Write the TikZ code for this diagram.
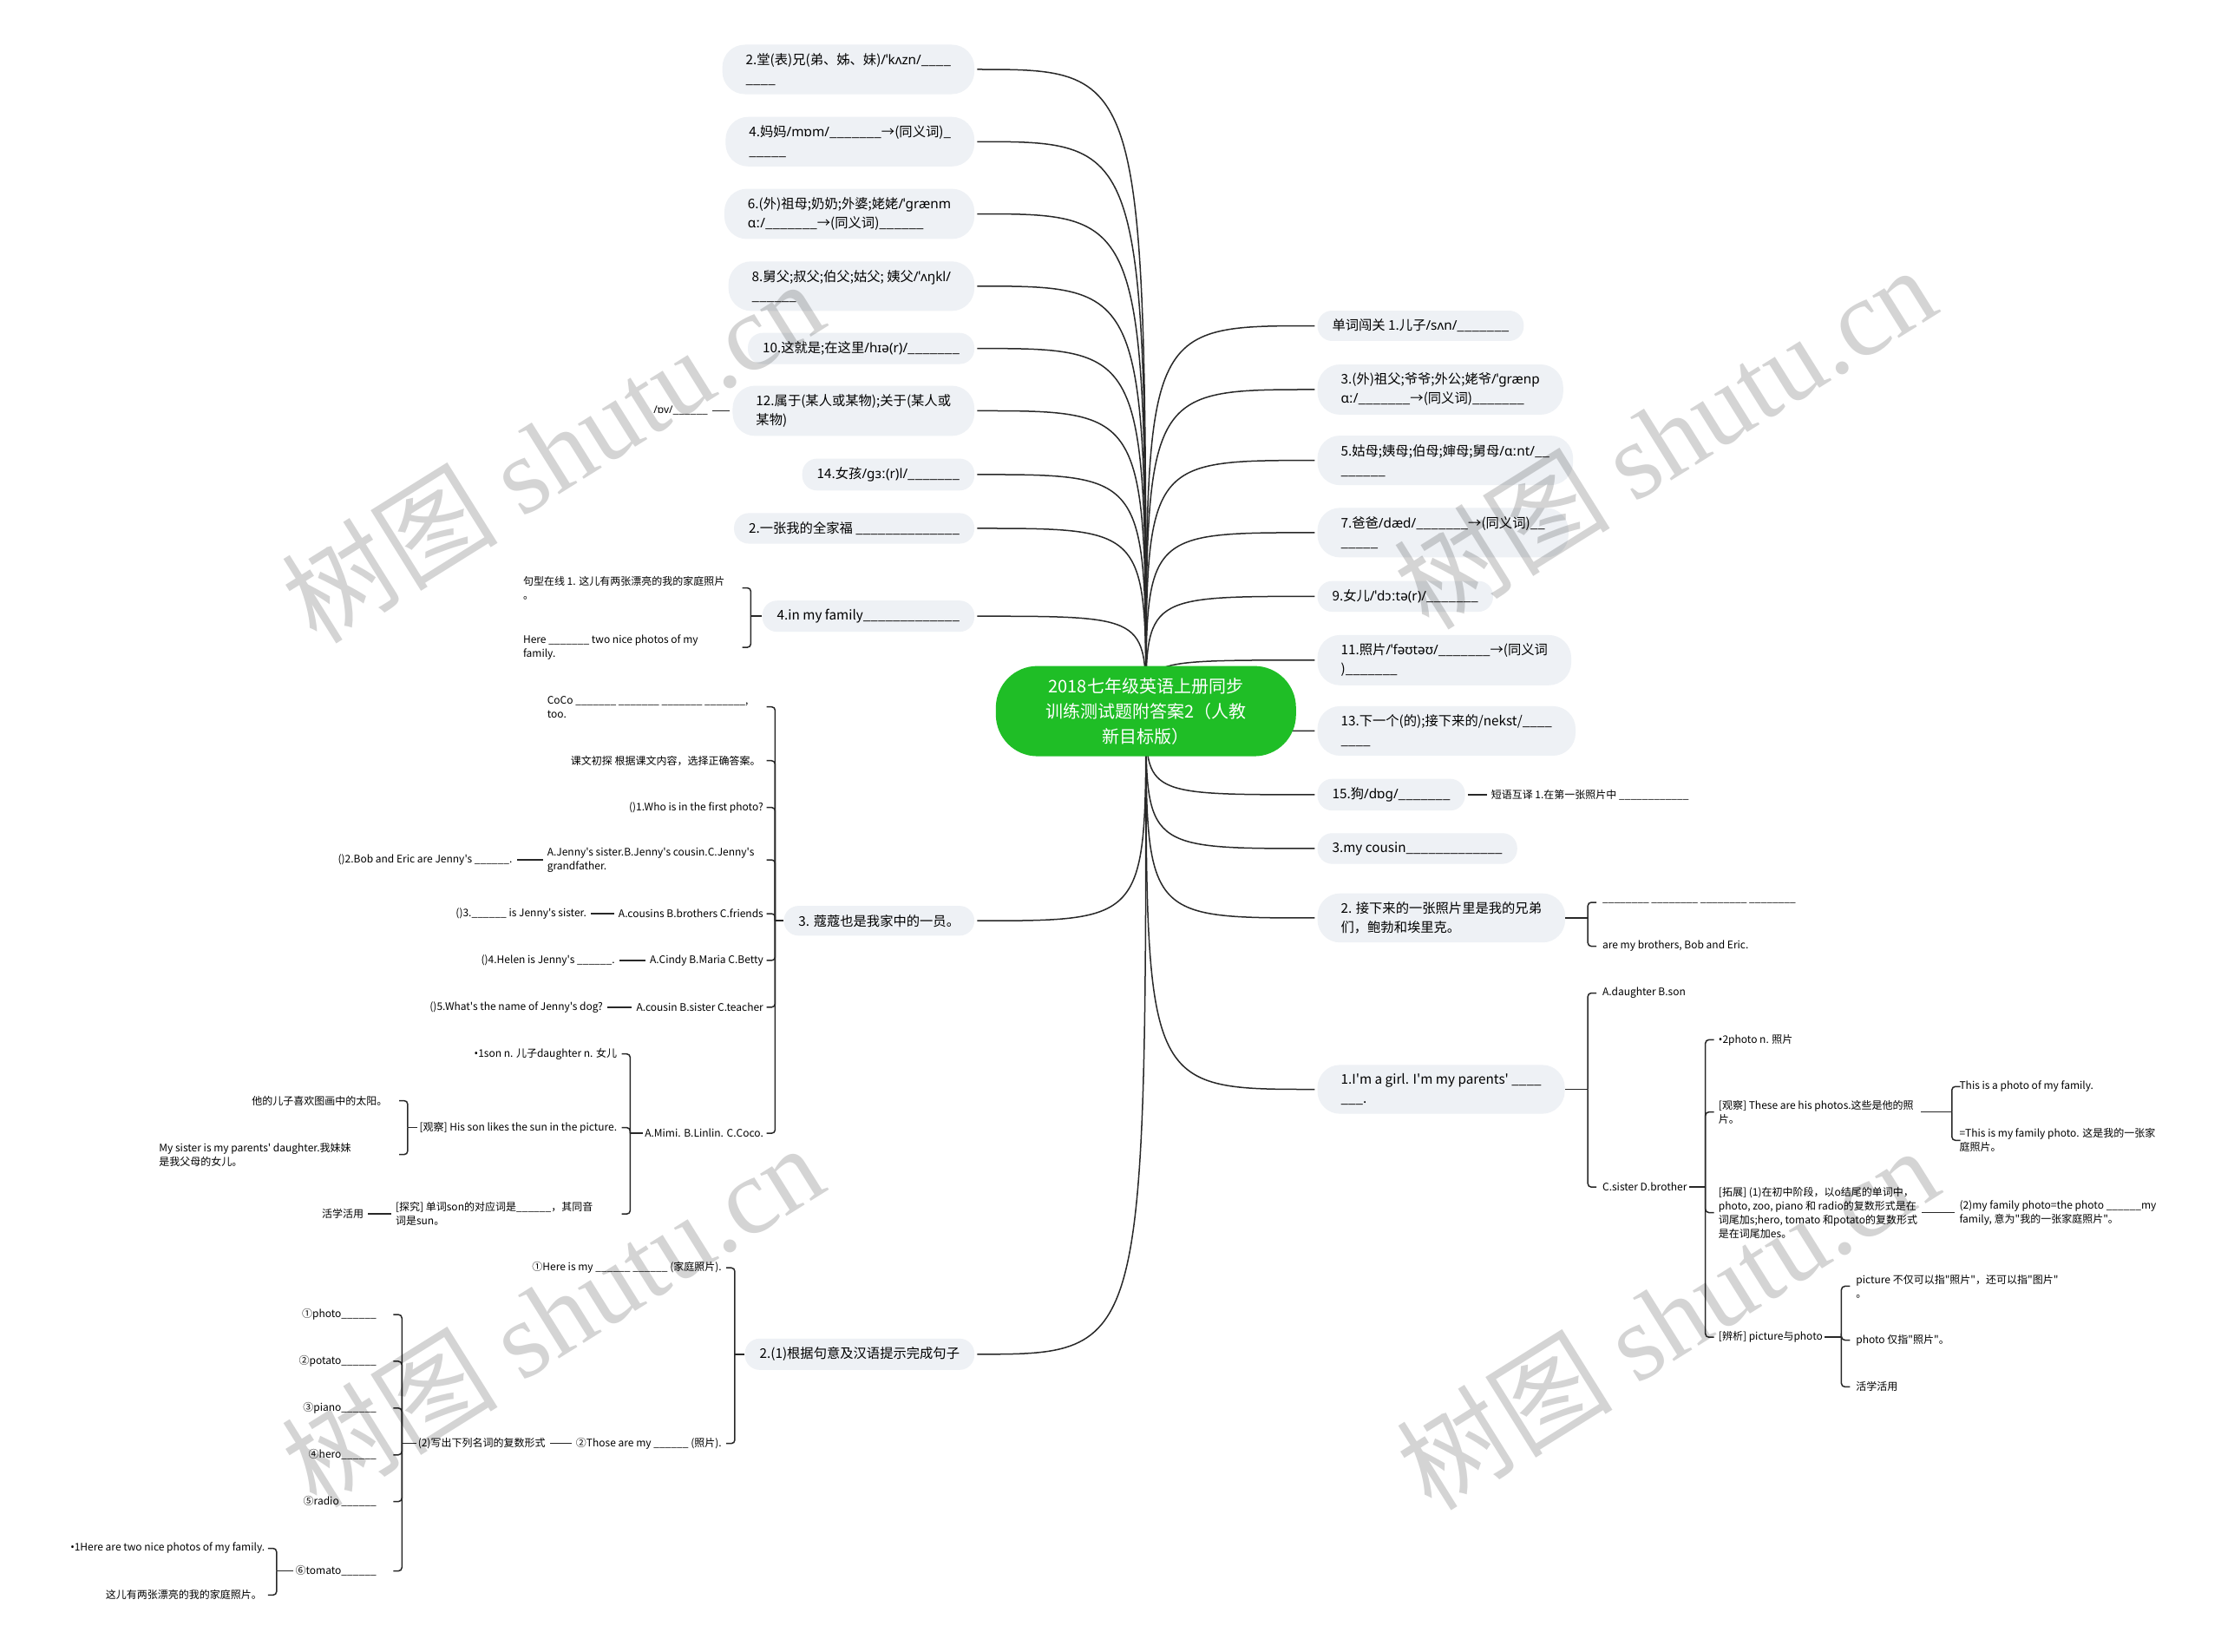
\documentclass[tikz,border=0pt]{standalone}
\usepackage{fontspec}
\setmainfont{Noto Sans CJK SC}[Ligatures=TeXOff]
\newfontfamily\ipafont{Noto Sans}
\newfontfamily\markfont{Liberation Serif}
\usetikzlibrary{calc, backgrounds}
\definecolor{rootgreen}{RGB}{31,190,38}
\definecolor{topicfill}{RGB}{238,241,245}
\definecolor{linkcol}{RGB}{40,40,40}
\newcommand{\ipa}[1]{{\ipafont #1}}
\newcommand{\hookL}[2]{\draw[twig] (#1) |- ($(#1|-#2)+(-6,0)$);}
\newcommand{\hookR}[2]{\draw[twig] (#1) |- ($(#1|-#2)+(6,0)$);}

\begin{document}
\catcode`\_=12
\begin{tikzpicture}[x={(1.6327pt,0pt)}, y={(0pt,-1.6327pt)},
    root/.style={fill=rootgreen, text=white, rounded corners=48pt, minimum width=346pt, minimum height=104pt, align=center, font=\fontsize{20}{29}\selectfont},
    topic/.style={fill=topicfill, rounded corners=17pt, inner xsep=17pt, inner ysep=10pt, align=left, font=\fontsize{15.3}{22}\selectfont},
    tall/.style={topic, rounded corners=26pt, inner xsep=27pt},
    leaf/.style={inner sep=2pt, align=left, font=\fontsize{12}{16}\selectfont},
    trunk/.style={draw=linkcol, line width=1.5pt},
    twig/.style={draw=linkcol, line width=1.5pt, rounded corners=4pt},
    stub/.style={twig, shorten <=3pt, shorten >=3pt},
    stamp/.style={rotate=32, text=black, opacity=0.17, font=\fontsize{125}{125}\selectfont}]
    \useasboundingbox (0,0) rectangle (1568,1166);

    % centre
    \node[root] (root) at (809,502) {2018七年级英语上册同步\\训练测试题附答案2（人教\\新目标版）};

    % left topics
    \node[tall, anchor=east] (L1) at (688,49) {2.堂(表)兄(弟、姊、妹)\ipa{/ˈkʌzn/}____\\____};
    \node[tall, anchor=east] (L2) at (688,100) {4.妈妈\ipa{/mɒm/}_______→(同义词)_\\_____};
    \node[tall, anchor=east] (L3) at (688,151) {6.(外)祖母;奶奶;外婆;姥姥\ipa{/ˈɡrænm}\\\ipa{ɑː/}_______→(同义词)______};
    \node[tall, anchor=east] (L4) at (688,202) {8.舅父;叔父;伯父;姑父; 姨父\ipa{/ˈʌŋkl/}\\______};
    \node[topic, anchor=east] (L5) at (688,246) {10.这就是;在这里\ipa{/hɪə(r)/}_______};
    \node[tall, anchor=east] (L6) at (688,290) {12.属于(某人或某物);关于(某人或\\某物)};
    \node[topic, anchor=east] (L7) at (688,335) {14.女孩\ipa{/ɡɜː(r)l/}_______};
    \node[topic, anchor=east] (L8) at (688,373) {2.一张我的全家福 ______________};
    \node[topic, anchor=east] (L9) at (688,435) {4.in my family_____________};
    \node[topic, anchor=east] (L10) at (688,650) {3. 蔻蔻也是我家中的一员。};
    \node[topic, anchor=east] (L11) at (688,956) {2.(1)根据句意及汉语提示完成句子};

    % right topics
    \node[topic, anchor=west] (R1) at (930,230) {单词闯关 1.儿子\ipa{/sʌn/}_______};
    \node[tall, anchor=west] (R2) at (930,275) {3.(外)祖父;爷爷;外公;姥爷\ipa{/ˈɡrænp}\\\ipa{ɑː/}_______→(同义词)_______};
    \node[tall, anchor=west] (R3) at (930,325) {5.姑母;姨母;伯母;婶母;舅母\ipa{/ɑːnt/}__\\______};
    \node[tall, anchor=west] (R4) at (930,376) {7.爸爸\ipa{/dæd/}_______→(同义词)__\\_____};
    \node[topic, anchor=west] (R5) at (930,421) {9.女儿\ipa{/ˈdɔːtə(r)/}_______};
    \node[tall, anchor=west] (R6) at (930,466) {11.照片\ipa{/ˈfəʊtəʊ/}_______→(同义词\\)_______};
    \node[tall, anchor=west] (R7) at (930,516) {13.下一个(的);接下来的/nekst/____\\____};
    \node[topic, anchor=west] (R8) at (930,561) {15.狗\ipa{/dɒɡ/}_______};
    \node[topic, anchor=west] (R9) at (930,599) {3.my cousin_____________};
    \node[tall, anchor=west] (R10) at (930,648) {2. 接下来的一张照片里是我的兄弟\\们，鲍勃和埃里克。};
    \node[tall, anchor=west] (R11) at (930,769) {1.I'm a girl. I'm my parents' ____\\___.};

    \begin{scope}[on background layer]
        \fill[white] (0,0) rectangle (1568,1166);
        \foreach \t in {L1,L2,L3,L4,L5,L6,L7,L8,L9,L10,L11}
            \draw[trunk] (root.center) .. controls (root.center |- \t.east) .. ([xshift=3pt]\t.east);
        \foreach \t in {R1,R2,R3,R4,R5,R6,R7,R8,R9,R10,R11}
            \draw[trunk] (root.center) .. controls (root.center |- \t.west) .. ([xshift=-3pt]\t.west);
    \end{scope}

    % L6
    \node[leaf, anchor=east] (ov) at ($(L6.west)+(-16,0)$) {\ipa{/ɒv/}______};
    \draw[stub] (L6.west) -- (ov.east);

    % L9
    \path (L9.west) ++(-8,0) coordinate (j9);
    \node[leaf, anchor=west] (k91) at (368,415) {句型在线 1. 这儿有两张漂亮的我的家庭照片\\。};
    \node[leaf, anchor=west] (k92) at (368,457) {Here _______ two nice photos of my\\family.};
    \draw[twig] (L9.west) -- (j9);
    \hookL{j9}{k91} \hookL{j9}{k92}

    % L10
    \path (L10.west) ++(-6,0) coordinate (j10);
    \node[leaf, anchor=west] (k101) at (385,499) {CoCo _______ _______ _______ _______,\\too.};
    \node[leaf, anchor=east] (k102) at ($(j10)+(-9,-113)$) {课文初探 根据课文内容，选择正确答案。};
    \node[leaf, anchor=east] (k103) at ($(j10)+(-7,-80)$) {()1.Who is in the first photo?};
    \node[leaf, anchor=west] (k104) at (385,607) {A.Jenny's sister.B.Jenny's cousin.C.Jenny's\\ grandfather.};
    \node[leaf, anchor=east] (k105) at ($(j10)+(-7,-5)$) {A.cousins B.brothers C.friends};
    \node[leaf, anchor=east] (k106) at ($(j10)+(-7,28)$) {A.Cindy B.Maria C.Betty};
    \node[leaf, anchor=east] (k107) at ($(j10)+(-7,61)$) {A.cousin B.sister C.teacher};
    \node[leaf, anchor=east] (k108) at ($(j10)+(-7,150)$) {A.Mimi. B.Linlin. C.Coco.};
    \draw[twig] (L10.west) -- (j10);
    \foreach \k in {k101,k102,k103,k104,k105,k106,k107,k108}
        {\hookL{j10}{\k}}

    \node[leaf, anchor=east] (k104a) at ($(k104.west)+(-22,0)$) {()2.Bob and Eric are Jenny's ______.};
    \node[leaf, anchor=east] (k105a) at ($(k105.west)+(-20,0)$) {()3.______ is Jenny's sister.};
    \node[leaf, anchor=east] (k106a) at ($(k106.west)+(-22,0)$) {()4.Helen is Jenny's ______.};
    \node[leaf, anchor=east] (k107a) at ($(k107.west)+(-21,0)$) {()5.What's the name of Jenny's dog?};
    \draw[stub] (k104.west) -- (k104a.east);
    \draw[stub] (k105.west) -- (k105a.east);
    \draw[stub] (k106.west) -- (k106a.east);
    \draw[stub] (k107.west) -- (k107a.east);

    % A.Mimi
    \path (k108.west) ++(-9,0) coordinate (j108);
    \node[leaf, anchor=east] (m1) at ($(j108)+(-8,-56)$) {\ipa{•}1son n. 儿子daughter n. 女儿};
    \node[leaf, anchor=east] (m2) at ($(j108)+(-8,-4)$) {[观察] His son likes the sun in the picture.};
    \node[leaf, anchor=west] (m3) at (278,857) {[探究] 单词son的对应词是______，其同音\\词是sun。};
    \draw[twig] (k108.west) -- (j108);
    \hookL{j108}{m1} \hookL{j108}{m2} \hookL{j108}{m3}

    \path (m2.west) ++(-7,0) coordinate (jm2);
    \node[leaf, anchor=east] (m21) at ($(jm2)+(-13,-19)$) {他的儿子喜欢图画中的太阳。};
    \node[leaf, anchor=west] (m22) at (111,815) {My sister is my parents' daughter.我妹妹\\是我父母的女儿。};
    \draw[twig] (m2.west) -- (jm2);
    \hookL{jm2}{m21} \hookL{jm2}{m22}

    \node[leaf, anchor=east] (m31) at ($(m3.west)+(-20,0)$) {活学活用};
    \draw[stub] (m3.west) -- (m31.east);

    % L11
    \path (L11.west) ++(-7,0) coordinate (j11);
    \node[leaf, anchor=east] (n1) at ($(j11)+(-8,-61)$) {①Here is my ______ ______ (家庭照片).};
    \node[leaf, anchor=east] (n2) at ($(j11)+(-8,63)$) {②Those are my ______ (照片).};
    \draw[twig] (L11.west) -- (j11);
    \hookL{j11}{n1} \hookL{j11}{n2}

    \node[leaf, anchor=east] (n2a) at ($(n2.west)+(-19,0)$) {(2)写出下列名词的复数形式};
    \draw[stub] (n2.west) -- (n2a.east);

    \path (n2a.west) ++(-10,0) coordinate (jn2a);
    \node[leaf, anchor=east] (p1) at (267,928) {①photo______};
    \node[leaf, anchor=east] (p2) at (267,961) {②potato______};
    \node[leaf, anchor=east] (p3) at (267,994) {③piano______};
    \node[leaf, anchor=east] (p4) at (267,1027) {④hero______};
    \node[leaf, anchor=east] (p5) at (267,1060) {⑤radio ______};
    \node[leaf, anchor=east] (p6) at (267,1109) {⑥tomato______};
    \draw[twig] (n2a.west) -- (jn2a);
    \foreach \k in {p1,p2,p3,p4,p5,p6}
        {\hookL{jn2a}{\k}}

    \path (p6.west) ++(-12,0) coordinate (jp6);
    \node[leaf, anchor=east] (q1) at ($(jp6)+(-7,-16)$) {\ipa{•}1Here are two nice photos of my family.};
    \node[leaf, anchor=east] (q2) at ($(jp6)+(-9,17)$) {这儿有两张漂亮的我的家庭照片。};
    \draw[twig] (p6.west) -- (jp6);
    \hookL{jp6}{q1} \hookL{jp6}{q2}

    % R8
    \node[leaf, anchor=west] (r81) at ($(R8.east)+(17,0)$) {短语互译 1.在第一张照片中 ____________};
    \draw[stub] (R8.east) -- (r81.west);

    % R10
    \coordinate (j10r) at (1121,648);
    \node[leaf, anchor=west] (s1) at (1130,637) {________ ________ ________ ________};
    \node[leaf, anchor=west] (s2) at (1130,668) {are my brothers, Bob and Eric.};
    \draw[twig] (R10.east) -- (j10r);
    \hookR{j10r}{s1} \hookR{j10r}{s2}

    % R11
    \coordinate (j11r) at (1121,769);
    \node[leaf, anchor=west] (t1) at (1130,701) {A.daughter B.son};
    \node[leaf, anchor=west] (t2) at (1130,838) {C.sister D.brother};
    \draw[twig] (R11.east) -- (j11r);
    \hookR{j11r}{t1} \hookR{j11r}{t2}

    \coordinate (jt2) at (1204,838);
    \node[leaf, anchor=west] (u1) at (1212,734) {\ipa{•}2photo n. 照片};
    \node[leaf, anchor=west] (u2) at (1212,785) {[观察] These are his photos.这些是他的照\\片。};
    \node[leaf, anchor=west] (u3) at (1212,856) {[拓展] (1)在初中阶段，以o结尾的单词中，\\photo, zoo, piano 和 radio的复数形式是在\\词尾加s;hero, tomato 和potato的复数形式\\是在词尾加es。};
    \node[leaf, anchor=west] (u4) at (1212,944) {[辨析] picture与photo};
    \draw[twig] (t2.east) -- (jt2);
    \foreach \k in {u1,u2,u3,u4}
        {\hookR{jt2}{\k}}

    \coordinate (ju2) at (1378,785);
    \node[leaf, anchor=west] (u21) at (1382,767) {This is a photo of my family.};
    \node[leaf, anchor=west] (u22) at (1382,805) {=This is my family photo. 这是我的一张家\\庭照片。};
    \draw[twig] ([xshift=6pt]u2.east) -- (ju2);
    \hookR{ju2}{u21} \hookR{ju2}{u22}

    \node[leaf, anchor=west] (u31) at (1382,856) {(2)my family photo=the photo ______my\\ family, 意为"我的一张家庭照片"。};
    \draw[stub] (u3.east) -- (u31.west);

    \coordinate (ju4) at (1300,944);
    \node[leaf, anchor=west] (v1) at (1309,908) {picture 不仅可以指"照片"，还可以指"图片"\\。};
    \node[leaf, anchor=west] (v2) at (1309,946) {photo 仅指"照片"。};
    \node[leaf, anchor=west] (v3) at (1309,979) {活学活用};
    \draw[twig] (u4.east) -- (ju4);
    \hookR{ju4}{v1} \hookR{ju4}{v2} \hookR{ju4}{v3}

    % watermark
    \foreach \p in {(390,318),(1175,308),(390,928),(1177,930)}
        \node[stamp] at \p {树图 {\markfont shutu.cn}};
\end{tikzpicture}
\end{document}
